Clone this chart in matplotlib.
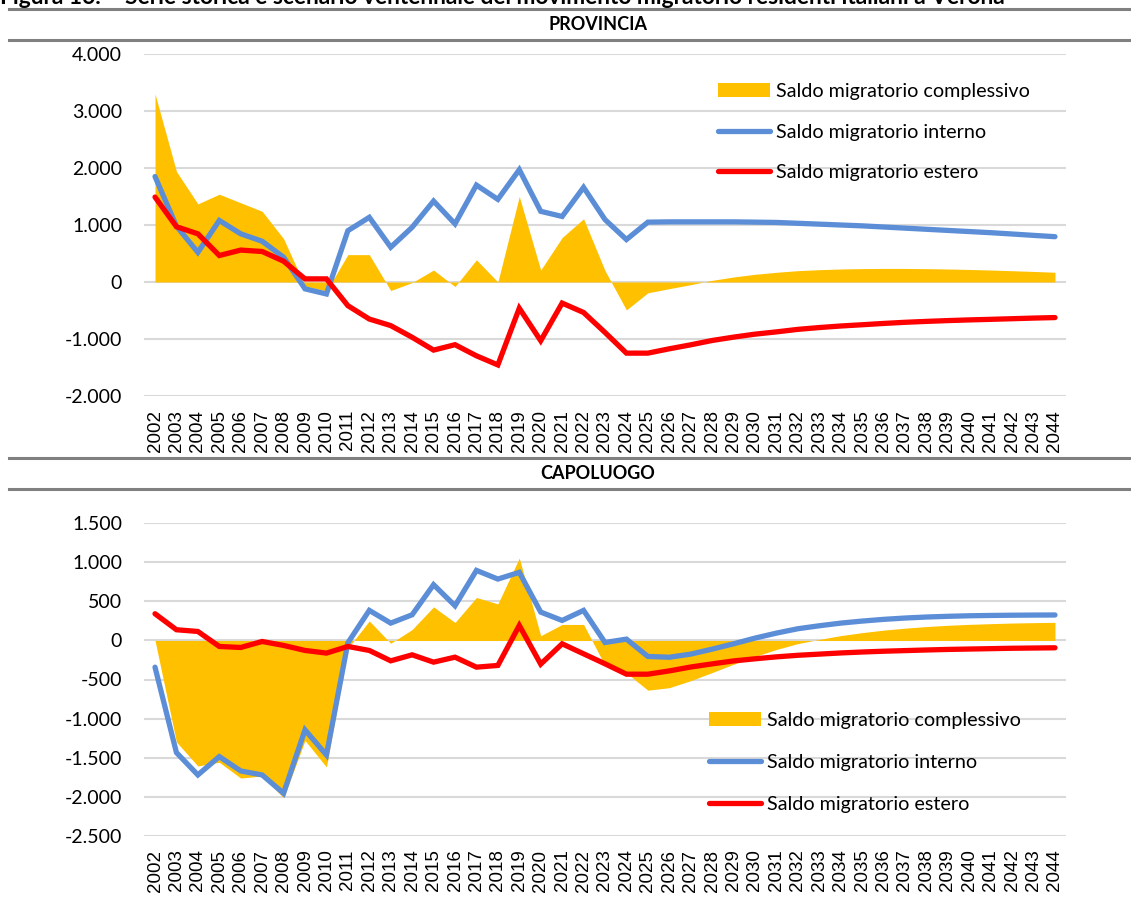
import matplotlib
matplotlib.use('Agg')
import matplotlib.pyplot as plt
from matplotlib.ticker import FuncFormatter, MultipleLocator
from matplotlib.patches import Patch
from matplotlib.lines import Line2D

years = list(range(2002, 2045))

prov_complessivo = [3300, 1940, 1370, 1540, 1390, 1240, 760, -70, -160, 480, 480, -150, -10,
                    210, -80, 390, 0, 1500, 210, 780, 1110, 200, -490,
                    -190, -117, -47, 29, 88, 135, 170, 199, 216, 228, 235, 238, 238, 234,
                    228, 220, 210, 198, 185, 171]
prov_interno = [1850, 980, 520, 1080, 845, 715, 435, -120, -210, 900, 1135, 610, 960, 1420,
                1020, 1700, 1450, 1970, 1240, 1150, 1660, 1095, 745,
                1050, 1055, 1055, 1055, 1055, 1050, 1045, 1030, 1015, 1000, 985, 965, 945,
                925, 905, 885, 865, 842, 818, 795]
prov_estero = [1490, 970, 845, 465, 560, 535, 365, 55, 55, -415, -650, -765, -970, -1195,
               -1100, -1295, -1455, -460, -1030, -370, -535, -885, -1248,
               -1248, -1172, -1102, -1026, -967, -915, -875, -831, -799, -772, -750, -727,
               -707, -691, -677, -665, -655, -644, -633, -624]

cap_complessivo = [0, -1300, -1607, -1560, -1762, -1735, -2015, -1280, -1620, -100, 250, -36,
                   140, 430, 230, 550, 468, 1055, 60, 205, 205, -320, -415,
                   -637, -605, -515, -411, -305, -205, -116, -40, 13, 62, 100, 132, 157, 178,
                   194, 206, 215, 223, 228, 232]
cap_interno = [-342, -1436, -1722, -1487, -1671, -1722, -1957, -1145, -1466, -30, 385, 222, 329,
               714, 444, 897, 786, 872, 363, 256, 385, -26, 17,
               -205, -215, -175, -111, -43, 30, 94, 150, 188, 222, 248, 270, 287, 300, 309,
               316, 320, 323, 325, 326]
cap_estero = [342, 137, 115, -77, -90, -13, -64, -128, -162, -77, -128, -261, -184, -278, -214,
              -342, -320, 192, -303, -43, -171, -299, -432,
              -432, -390, -340, -300, -262, -235, -210, -190, -175, -160, -148, -138, -130,
              -122, -115, -110, -105, -100, -97, -94]

labels = ["Saldo migratorio complessivo", "Saldo migratorio interno", "Saldo migratorio estero"]
fig_title = "Figura 16. \u2013 Serie storica e scenario ventennale del movimento migratorio residenti italiani a Verona"

YELLOW = "#FFC000"
BLUE = "#5B8ED6"
RED = "#FF0000"
GRID = "#D9D9D9"
SEP = "#808080"

W, H = 1131, 897
fig = plt.figure(figsize=(W / 100, H / 100), dpi=100)

TXT = ['Lato', 'DejaVu Sans']
TICK = ['Liberation Sans', 'DejaVu Sans']

def fmt(v, pos):
    s = f"{abs(int(round(v))):,}".replace(",", ".")
    return ("-" + s) if v < 0 else s

def px_axes(left, right, top, bottom):
    return [left / W, 1 - bottom / H, (right - left) / W, (bottom - top) / H]

def draw(ax, comp, inte, este, ylim, step, leg_xy, spacing):
    x = list(range(len(years)))
    ax.fill_between(x, 0, comp, color=YELLOW, linewidth=0, zorder=2)
    ax.plot(x, inte, color=BLUE, lw=3.8, solid_capstyle='round', solid_joinstyle='miter', zorder=3)
    ax.plot(x, este, color=RED, lw=3.8, solid_capstyle='round', solid_joinstyle='miter', zorder=4)
    ax.set_xlim(-0.5, len(years) - 0.5)
    ax.set_ylim(*ylim)
    ax.yaxis.set_major_locator(MultipleLocator(step))
    ax.yaxis.set_major_formatter(FuncFormatter(fmt))
    ax.set_xticks(x)
    ax.set_xticklabels([str(y) for y in years], rotation=90, family=TICK, fontsize=13.5)
    for t in ax.get_yticklabels():
        t.set_family(TXT)
        t.set_fontsize(14)
    ax.tick_params(axis='both', length=0)
    ax.tick_params(axis='y', pad=16)
    ax.tick_params(axis='x', pad=10)
    ax.grid(axis='y', color=GRID, lw=1.5, zorder=0)
    ax.set_axisbelow(True)
    for s in ax.spines.values():
        s.set_visible(False)
    handles = [Patch(facecolor=YELLOW, edgecolor='none'),
               Line2D([], [], color=BLUE, lw=3.8, solid_capstyle='round'),
               Line2D([], [], color=RED, lw=3.8, solid_capstyle='round')]
    ax.legend(handles, labels, loc='upper left', bbox_to_anchor=(leg_xy[0] / W, 1 - leg_xy[1] / H),
              bbox_transform=fig.transFigure, frameon=False, borderpad=0, borderaxespad=0,
              handlelength=2.65, handletextpad=0.3, labelspacing=spacing,
              prop={'family': TXT, 'size': 14.2})

ax1 = fig.add_axes(px_axes(144.3, 1065.7, 54, 396))
draw(ax1, prov_complessivo, prov_interno, prov_estero, (-2000, 4000), 1000, (718, 83), 1.2)
ax2 = fig.add_axes(px_axes(144.3, 1065.7, 523.3, 835.7))
draw(ax2, cap_complessivo, cap_interno, cap_estero, (-2500, 1500), 500, (709, 712), 1.27)

# separator lines and panel titles
for yy in (9.5, 40, 458, 489):
    fig.add_artist(Line2D([9 / W, 1], [1 - yy / H, 1 - yy / H], color=SEP, lw=2.2,
                          transform=fig.transFigure))
fig.text(598 / W, 1 - 25 / H, "PROVINCIA", ha='center', va='center', family=TXT,
         weight='bold', fontsize=13)
fig.text(598 / W, 1 - 473.5 / H, "CAPOLUOGO", ha='center', va='center', family=TXT,
         weight='bold', fontsize=13)
fig.text(0 / W, 1 - 3.5 / H, fig_title, ha='left', va='baseline', family=TXT,
         weight='bold', fontsize=16.4)

fig.savefig("out.png", dpi=100)
